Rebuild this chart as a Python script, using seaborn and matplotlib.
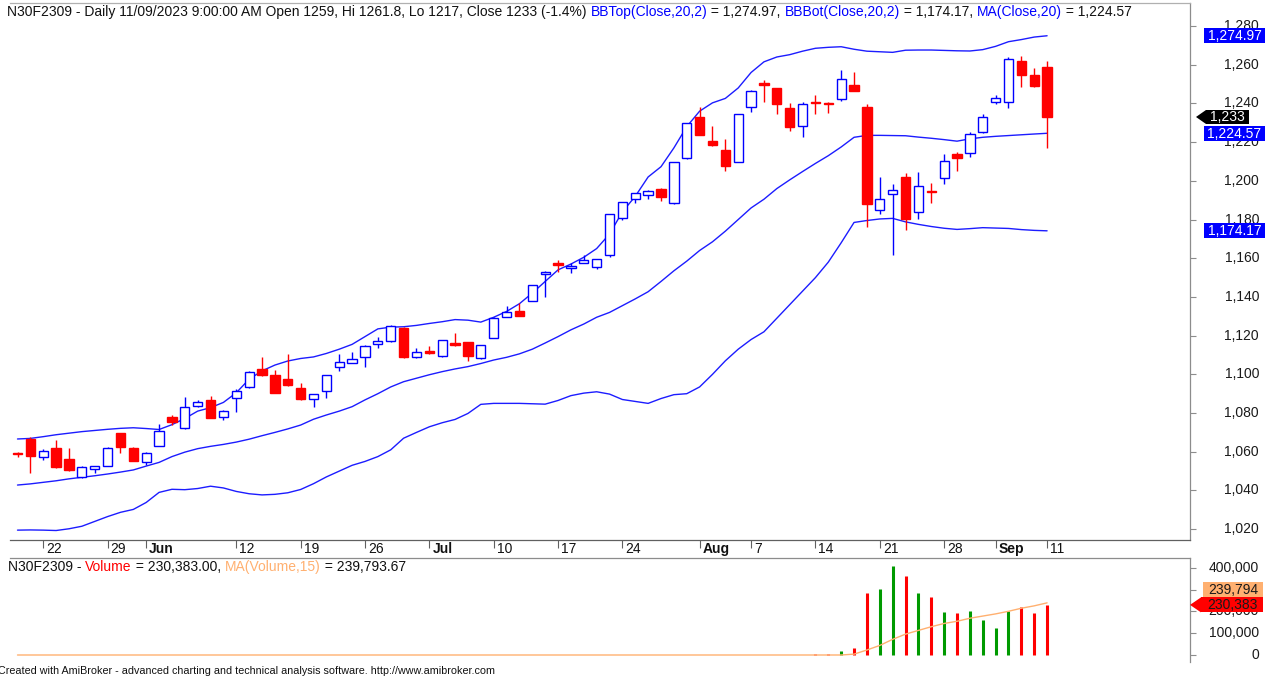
import matplotlib
matplotlib.use("Agg")
import matplotlib.pyplot as plt
import matplotlib.transforms as mtrans
from matplotlib.patches import Rectangle, Polygon
import numpy as np
import pandas as pd
import seaborn as sns

sns.set_theme(style="white")
plt.rcParams["font.family"] = ["Liberation Sans", "DejaVu Sans"]

W, H = 1268, 678
FS = 10

# ---- data ----
holidays = ["2023-09-01", "2023-09-04"]
dates = pd.bdate_range("2023-05-18", "2023-09-11", freq="C", holidays=holidays)

opens = [1058.9, 1066.5, 1057.4, 1062.1, 1056.2, 1047.1, 1051.0, 1052.6, 1069.5, 1062.1,
         1054.8, 1063.0, 1078.1, 1072.2, 1083.8, 1086.9, 1078.1, 1087.6, 1093.3, 1102.6,
         1099.6, 1097.4, 1092.7, 1087.4, 1091.4, 1103.6, 1106.0, 1108.8, 1115.7, 1117.0,
         1124.1, 1108.8, 1112.2, 1109.5, 1116.0, 1116.5, 1108.3, 1118.8, 1129.8, 1132.9,
         1137.9, 1151.7, 1157.7, 1154.8, 1157.7, 1155.6, 1161.5, 1180.6, 1190.6, 1192.5,
         1195.6, 1188.4, 1211.6, 1232.8, 1220.4, 1215.8, 1209.9, 1238.3, 1250.4, 1247.8,
         1237.5, 1228.5, 1240.9, 1240.4, 1242.1, 1249.5, 1238.0, 1185.1, 1193.3, 1201.8,
         1183.7, 1194.9, 1201.3, 1213.7, 1214.5, 1225.0, 1240.9, 1240.5, 1261.9, 1254.7,
         1259.0]
highs = [1060.0, 1067.5, 1061.2, 1066.0, 1062.2, 1052.8, 1052.8, 1062.3, 1069.7, 1062.3,
         1059.7, 1074.1, 1078.8, 1088.1, 1086.7, 1088.6, 1081.4, 1092.6, 1101.6, 1109.1,
         1102.2, 1110.5, 1095.3, 1090.0, 1099.8, 1110.3, 1111.7, 1115.0, 1119.1, 1125.3,
         1124.3, 1113.8, 1114.6, 1117.9, 1121.2, 1116.8, 1115.4, 1129.5, 1135.5, 1137.0,
         1146.4, 1153.3, 1159.1, 1157.7, 1161.7, 1159.6, 1182.9, 1189.2, 1193.7, 1195.1,
         1196.5, 1209.7, 1230.0, 1238.1, 1228.3, 1221.6, 1234.6, 1246.8, 1252.1, 1248.0,
         1240.0, 1240.9, 1244.3, 1240.6, 1257.3, 1256.1, 1239.5, 1201.8, 1198.4, 1203.9,
         1204.4, 1198.7, 1213.7, 1215.1, 1225.1, 1234.4, 1244.3, 1264.2, 1264.7, 1258.1,
         1261.8]
lows = [1057.4, 1049.0, 1055.9, 1051.5, 1050.0, 1046.6, 1048.8, 1052.4, 1059.2, 1055.0,
        1053.1, 1062.8, 1073.8, 1072.0, 1082.9, 1077.4, 1076.4, 1080.3, 1093.0, 1099.4,
        1090.3, 1094.0, 1086.7, 1083.3, 1087.6, 1101.7, 1105.7, 1103.9, 1113.4, 1116.8,
        1108.6, 1108.6, 1110.6, 1109.0, 1114.9, 1107.1, 1108.1, 1118.6, 1129.6, 1129.9,
        1137.7, 1140.1, 1153.1, 1152.5, 1157.5, 1154.4, 1160.5, 1180.0, 1188.4, 1190.6,
        1189.6, 1188.2, 1211.4, 1223.5, 1218.0, 1205.1, 1209.7, 1235.4, 1240.9, 1234.4,
        1225.8, 1222.6, 1234.4, 1234.9, 1241.2, 1246.2, 1176.3, 1182.7, 1161.7, 1174.6,
        1180.3, 1188.4, 1198.5, 1205.1, 1212.3, 1224.8, 1239.5, 1237.8, 1248.7, 1248.3,
        1217.0]
closes = [1058.7, 1058.0, 1060.2, 1051.9, 1050.5, 1052.3, 1052.8, 1062.1, 1062.4, 1055.3,
          1059.5, 1070.9, 1075.2, 1083.3, 1085.8, 1077.6, 1081.2, 1091.5, 1101.4, 1099.6,
          1090.5, 1094.3, 1087.1, 1089.8, 1099.6, 1106.2, 1107.7, 1114.8, 1117.0, 1125.1,
          1108.8, 1111.4, 1110.8, 1117.7, 1115.1, 1109.5, 1115.2, 1129.3, 1132.0, 1130.1,
          1146.2, 1153.1, 1156.3, 1156.2, 1158.9, 1159.4, 1182.7, 1189.0, 1193.5, 1194.9,
          1191.8, 1209.5, 1229.7, 1223.7, 1218.5, 1207.5, 1234.4, 1246.6, 1249.3, 1239.5,
          1228.0, 1239.5, 1240.2, 1239.7, 1252.4, 1246.4, 1187.8, 1190.6, 1195.4, 1180.3,
          1197.5, 1194.4, 1210.4, 1211.6, 1224.0, 1232.8, 1242.6, 1262.8, 1254.7, 1249.2,
          1233.0]

bb_top = [1066.6, 1066.9, 1067.8, 1068.8, 1069.6, 1070.4, 1071.0, 1071.6, 1072.1, 1072.4,
          1072.0, 1071.5, 1074.0, 1077.2, 1081.0, 1082.8, 1085.5, 1090.5, 1097.5, 1101.8,
          1104.8, 1106.9, 1108.2, 1109.0, 1110.8, 1113.0, 1115.5, 1119.5, 1123.5, 1124.4,
          1124.6, 1125.3, 1126.3, 1127.2, 1128.3, 1128.0, 1127.0, 1129.5, 1132.5, 1136.5,
          1142.0, 1148.0, 1154.0, 1157.0, 1160.5, 1165.0, 1172.5, 1184.0, 1192.0, 1202.0,
          1207.3, 1217.0, 1228.0, 1236.0, 1240.3, 1242.6, 1248.0, 1256.0, 1261.5, 1264.0,
          1265.2, 1267.0, 1268.5, 1269.0, 1269.3, 1268.0, 1267.0, 1266.7, 1266.4, 1267.5,
          1267.6, 1267.6, 1267.4, 1267.2, 1267.1, 1267.8, 1269.5, 1271.9, 1273.0, 1274.3,
          1274.97]
bb_mid = [1042.8, 1043.4, 1044.2, 1045.0, 1046.0, 1046.8, 1047.6, 1048.5, 1049.5, 1050.6,
          1052.6, 1054.5, 1057.5, 1059.8, 1061.6, 1062.8, 1063.8, 1065.0, 1066.5, 1068.3,
          1070.0, 1071.8, 1073.8, 1076.8, 1079.0, 1081.0, 1083.3, 1086.8, 1090.0, 1093.5,
          1096.2, 1098.0, 1099.8, 1101.4, 1102.8, 1104.0, 1105.6, 1107.4, 1108.8, 1110.6,
          1113.0, 1116.2, 1119.5, 1123.0, 1126.0, 1129.5, 1132.0, 1135.5, 1139.0, 1142.7,
          1148.0, 1153.5, 1158.5, 1164.0, 1168.5, 1174.0, 1180.0, 1186.0, 1190.5, 1196.0,
          1200.5, 1204.8, 1209.0, 1213.0, 1217.5, 1222.5, 1223.5, 1223.5, 1223.4, 1223.3,
          1222.6, 1222.0, 1221.3, 1220.5, 1221.7, 1222.5, 1223.0, 1223.4, 1223.8, 1224.2,
          1224.57]
bb_bot = [1019.5, 1019.6, 1019.5, 1019.3, 1020.2, 1021.5, 1024.0, 1026.5, 1028.7, 1030.2,
          1033.8, 1039.0, 1040.6, 1040.4, 1041.0, 1042.2, 1041.3, 1039.5, 1038.3, 1037.7,
          1038.0, 1038.8, 1040.5, 1043.5, 1047.0, 1050.0, 1053.0, 1055.0, 1057.5, 1061.0,
          1067.0, 1070.0, 1072.9, 1075.0, 1076.7, 1079.8, 1084.5, 1085.0, 1085.0, 1085.0,
          1084.8, 1084.6, 1086.5, 1089.0, 1090.3, 1091.0, 1089.8, 1087.0, 1086.0, 1085.0,
          1087.5, 1089.5, 1090.0, 1093.5, 1100.0, 1107.0, 1113.0, 1118.0, 1122.0, 1129.0,
          1136.0, 1143.0, 1150.0, 1158.0, 1168.0, 1178.5, 1179.5, 1180.3, 1180.6, 1178.8,
          1177.5, 1176.4, 1175.5, 1174.9, 1175.3, 1175.8, 1175.6, 1175.4, 1174.8, 1174.4,
          1174.17]

volume = [0] * 62 + [6000, 6000, 17000, 33000, 287000, 304000, 408000, 361000, 287000,
                     267000, 198000, 191000, 202000, 160000, 124000, 202000, 220000,
                     191000, 230383]
vol_ma = [0] * 65 + [4000, 23000, 44000, 72000, 96000, 113000, 130000, 145000, 155000,
                     169000, 179000, 189000, 201000, 215000, 226000, 239794]

tick_dates = ["2023-05-22", "2023-05-29", "2023-06-01", "2023-06-12", "2023-06-19",
              "2023-06-26", "2023-07-03", "2023-07-10", "2023-07-17", "2023-07-24",
              "2023-08-01", "2023-08-07", "2023-08-14", "2023-08-21", "2023-08-28",
              "2023-09-05", "2023-09-11"]
tick_labels = ["22", "29", "Jun", "12", "19", "26", "Jul", "10", "17", "24",
               "Aug", "7", "14", "21", "28", "Sep", "11"]

df = pd.DataFrame({"date": dates, "open": opens, "high": highs, "low": lows,
                   "close": closes, "bb_top": bb_top, "bb_mid": bb_mid,
                   "bb_bot": bb_bot, "volume": volume, "vol_ma": vol_ma})
df["pos"] = np.arange(len(df))
df["up"] = df["close"] >= df["open"]

BLUE = "#0000ff"
BAND = "#1c1cff"
RED = "#ff0000"
GREEN = "#009a00"
ORANGE = "#ffb070"
AXC = "#8c8c8c"

# ---- layout: panes placed in pixel terms ----
fig = plt.figure(figsize=(W / 100, H / 100), dpi=100)
fig.patch.set_facecolor("white")
ax = fig.add_axes([10 / W, 1 - 540 / H, 1180 / W, 537 / H])
axv = fig.add_axes([10 / W, 1 - 662 / H, 1180 / W, 104 / H], sharex=ax)
for a in (ax, axv):
    a.set_facecolor("white")
    a.grid(False)

# ---- price pane ----
for color, sub in ((BLUE, df[df["up"]]), (RED, df[~df["up"]])):
    ax.vlines(sub["pos"], sub["low"], sub["high"], color=color, lw=1.0, zorder=2)
    body = (sub["close"] - sub["open"]).abs().clip(lower=0.45)
    ax.bar(sub["pos"], body, bottom=sub[["open", "close"]].min(axis=1), width=0.72,
           color="white" if color == BLUE else RED, edgecolor=color, linewidth=1.0,
           zorder=3)

for col in ("bb_top", "bb_mid", "bb_bot"):
    sns.lineplot(data=df, x="pos", y=col, ax=ax, color=BAND, lw=1.0, legend=False,
                 zorder=1)

ax.set_xlim((10 - 17.5) / 12.87, (1190 - 17.5) / 12.87)
ax.set_ylim(1014.4, 1291.9)
ax.set_xlabel("")
ax.set_ylabel("")

pos_of = {d.strftime("%Y-%m-%d"): p for d, p in zip(df["date"], df["pos"])}
tick_pos = [pos_of[d] for d in tick_dates]
ax.set_xticks(tick_pos)
ax.set_yticks(range(1020, 1281, 20))
ax.tick_params(axis="x", bottom=True, length=6, width=0.8, color="#606060",
               direction="out", labelbottom=False)
ax.tick_params(axis="y", left=False, right=True, length=4, width=0.8, color=AXC,
               direction="out", labelleft=False, labelright=False)
ax.spines["left"].set_visible(False)
ax.spines["top"].set_color("#b0b0b0")
ax.spines["right"].set_color(AXC)
ax.spines["bottom"].set_color("#606060")
for s in ax.spines.values():
    s.set_linewidth(0.9)

# date labels just right of each tick
date_tr = mtrans.offset_copy(mtrans.blended_transform_factory(ax.transData, fig.transFigure),
                             fig=fig, x=3, y=0, units="dots")
for p, lab in zip(tick_pos, tick_labels):
    bold = not lab.isdigit()
    ax.text(p, 1 - 549 / H, lab, transform=date_tr, fontsize=FS, ha="left",
            va="center", fontweight="bold" if bold else "normal", color="#111111",
            clip_on=False)

# ---- volume pane ----
for color, sub in ((GREEN, df[df["up"]]), (RED, df[~df["up"]])):
    axv.vlines(sub["pos"], 0, sub["volume"], color=color, lw=2.2, zorder=2)
sns.lineplot(data=df, x="pos", y="vol_ma", ax=axv, color=ORANGE, lw=1.0,
             legend=False, zorder=3)
axv.set_ylim(-32184, 445977)
axv.set_xlabel("")
axv.set_ylabel("")
axv.set_yticks([0, 100000, 200000, 300000, 400000])
axv.tick_params(axis="x", bottom=False, labelbottom=False)
axv.tick_params(axis="y", left=False, right=True, length=4, width=0.8, color=AXC,
                direction="out", labelleft=False, labelright=False)
axv.spines["left"].set_visible(False)
axv.spines["bottom"].set_visible(False)
axv.spines["top"].set_color(AXC)
axv.spines["right"].set_color(AXC)
for s in axv.spines.values():
    s.set_linewidth(0.9)


def row_px(a, v):
    # data value -> pixel row counted from the top of the figure
    return H - a.transData.transform((0, v))[1]


# right-hand scale labels
for v in range(1020, 1281, 20):
    fig.text(1259 / W, 1 - row_px(ax, v) / H, f"{v:,}", fontsize=FS, ha="right",
             va="center", color="#1a1a1a")
for v in [0, 100000, 200000, 300000, 400000]:
    fig.text(1259 / W, 1 - row_px(axv, v) / H, f"{v:,}", fontsize=FS, ha="right",
             va="center", color="#1a1a1a")


def tag(y, text, fc, tc, x0=1204, x1=1265, h=15, tip=None):
    fig.add_artist(Rectangle((x0 / W, 1 - (y + h / 2) / H), (x1 - x0) / W, h / H,
                             transform=fig.transFigure, fc=fc, ec="none", zorder=5))
    if tip is not None:
        fig.add_artist(Polygon([(tip / W, 1 - y / H), (x0 / W, 1 - (y - h / 2) / H),
                                (x0 / W, 1 - (y + h / 2) / H)],
                               closed=True, transform=fig.transFigure, fc=fc,
                               ec="none", zorder=5))
    fig.text((x0 + x1) / 2 / W, 1 - (y + 0.5) / H, text, fontsize=FS, ha="center",
             va="center", color=tc, zorder=6)


tag(row_px(ax, bb_top[-1]), f"{bb_top[-1]:,.2f}", BLUE, "white")
tag(row_px(ax, closes[-1]), f"{closes[-1]:,.0f}", "black", "white", x0=1206,
    x1=1249, h=14, tip=1196)
tag(row_px(ax, bb_mid[-1]), f"{bb_mid[-1]:,.2f}", BLUE, "white")
tag(row_px(ax, bb_bot[-1]), f"{bb_bot[-1]:,.2f}", BLUE, "white")

y_vol = row_px(axv, volume[-1])
y_ma = min(row_px(axv, vol_ma[-1]), y_vol - 15)
tag(y_ma, f"{vol_ma[-1]:,.0f}", ORANGE, "#1a1a1a", x0=1203, x1=1263)
tag(y_vol, f"{volume[-1]:,.0f}", RED, "#1a1a1a", x0=1201, x1=1263, tip=1190)

# ---- multi-coloured pane titles ----
renderer = fig.canvas.get_renderer()


def text_width(s):
    t = fig.text(0, 0, s + "|", fontsize=FS)
    w = t.get_window_extent(renderer).width
    t.remove()
    return w


bar_w = text_width("")


def rich(x, y, parts):
    for s, c in parts:
        fig.text(x / W, 1 - y / H, s, fontsize=FS, color=c, ha="left", va="center",
                 zorder=6)
        x += text_width(s) - bar_w


K = "#111111"
rich(7, 12, [("N30F2309 - Daily 11/09/2023 9:00:00 AM Open 1259, Hi 1261.8, Lo 1217, "
              "Close 1233 (-1.4%) ", K),
             ("BBTop(Close,20,2)", BLUE), (" = 1,274.97, ", K),
             ("BBBot(Close,20,2)", BLUE), (" = 1,174.17, ", K),
             ("MA(Close,20)", BLUE), (" = 1,224.57", K)])
rich(8, 567, [("N30F2309 - ", K), ("Volume", RED), (" = 230,383.00, ", K),
              ("MA(Volume,15)", ORANGE), (" = 239,793.67", K)])

fig.text(-2 / W, 1 - 671 / H,
         "Created with AmiBroker - advanced charting and technical analysis software. "
         "http://www.amibroker.com", fontsize=7.75, ha="left", va="center", color=K)

fig.savefig("out.png", dpi=100)
